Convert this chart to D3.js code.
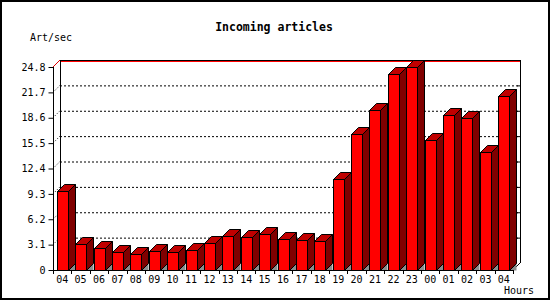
<!DOCTYPE html>
<html>
<head>
<meta charset="utf-8">
<script src="https://cdn.jsdelivr.net/npm/d3@7"></script>
<style>
  body { margin: 0; background: #fff; }
  svg text { font-family: "DejaVu Sans Mono", "Liberation Mono", monospace; }
</style>
</head>
<body>
<div id="chart"></div>
<script>
// Hours on the x axis (24h window, starts and ends at 04)
const hours = ["04", "05", "06", "07", "08", "09", "10", "11", "12", "13", "14", "15", "16",
               "17", "18", "19", "20", "21", "22", "23", "00", "01", "02", "03", "04"];
// Incoming articles per second
const artPerSec = [9.67, 3.18, 2.65, 2.2, 1.92, 2.32, 2.2, 2.45, 3.3, 4.16, 4.0, 4.4, 3.79,
                   3.63, 3.51, 11.13, 16.6, 19.58, 23.98, 24.8, 15.9, 18.93, 18.56, 14.44, 21.25];
// Y tick labels
const yTicks = [0, 3.1, 6.2, 9.3, 12.4, 15.5, 18.6, 21.7, 24.8];

const width = 550, height = 300;
const depth = 7; // 3d offset

const svg = d3.select("#chart")
              .append("svg")
              .attr("width", width)
              .attr("height", height);

// frame
svg.append("rect")
   .attr("x", 1).attr("y", 1)
   .attr("width", width - 2).attr("height", height - 2)
   .attr("fill", "#fff")
   .attr("stroke", "#000")
   .attr("stroke-width", 2);

// scales
const xScale = d3.scaleBand()
                 .domain(d3.range(hours.length))
                 .range([53, 513]);

const yScale = d3.scaleLinear()
                 .domain([0, d3.max(yTicks)])
                 .range([270, 67]);

const x0 = xScale.range()[0], x1 = xScale.range()[1];
const yBase = yScale(0), yTop = yScale(d3.max(yTicks));

// back wall grid lines (dotted)
const grid = svg.append("g");
yTicks.slice(1, -1).forEach((t) => {
  const y = yScale(t) - depth;
  grid.append("line")
      .attr("x1", x0 + depth).attr("x2", x1 + depth)
      .attr("y1", y + 0.5).attr("y2", y + 0.5)
      .attr("stroke", "#000")
      .attr("stroke-dasharray", "2,2");
  // little slanted dash on the side wall
  grid.append("line")
      .attr("x1", x0 + 2).attr("y1", yScale(t) - 2)
      .attr("x2", x0 + depth).attr("y2", yScale(t) - depth)
      .attr("stroke", "#000")
      .attr("stroke-dasharray", "1,2");
  // tick on the right wall
  grid.append("line")
      .attr("x1", x1 + depth - 3).attr("x2", x1 + depth)
      .attr("y1", y + 0.5).attr("y2", y + 0.5)
      .attr("stroke", "#000");
});

// back wall edges
svg.append("line")
   .attr("x1", x0 + depth + 0.5).attr("x2", x0 + depth + 0.5)
   .attr("y1", yTop - depth).attr("y2", yBase - depth)
   .attr("stroke", "#000");
svg.append("line")
   .attr("x1", x1 + depth + 0.5).attr("x2", x1 + depth + 0.5)
   .attr("y1", yTop - depth).attr("y2", yBase - depth)
   .attr("stroke", "#000");
svg.append("line")
   .attr("x1", x1).attr("y1", yBase)
   .attr("x2", x1 + depth).attr("y2", yBase - depth)
   .attr("stroke", "#000");

// top edge: black + red
svg.append("line")
   .attr("x1", x0 + depth).attr("x2", x1 + depth + 1)
   .attr("y1", yTop - depth + 0.5).attr("y2", yTop - depth + 0.5)
   .attr("stroke", "#000");
svg.append("line")
   .attr("x1", x0 + depth + 1).attr("x2", x1 + depth)
   .attr("y1", yTop - depth + 1.5).attr("y2", yTop - depth + 1.5)
   .attr("stroke", "#f00");
svg.append("line")
   .attr("x1", x0).attr("y1", yTop)
   .attr("x2", x0 + depth).attr("y2", yTop - depth)
   .attr("stroke", "#e00000");

// bars
const barW = 11;
const bars = svg.append("g")
                .attr("stroke", "#000")
                .attr("stroke-width", 1)
                .attr("stroke-linejoin", "miter");

artPerSec.forEach((v, i) => {
  const bx0 = Math.round(xScale(i) + xScale.bandwidth() / 2 - barW / 2) + 0.5;
  const bx1 = bx0 + barW;
  const by = Math.round(yScale(v)) + 0.5;
  const yb = yBase + 0.5;

  // floor shadow under the side
  bars.append("path")
      .attr("d", `M${bx1},${yb}L${bx1 + depth},${yb - depth}L${bx1 + depth},${yb}Z`)
      .attr("fill", "#8c8c8c")
      .attr("stroke", "none");

  // side face
  bars.append("path")
      .attr("d", `M${bx1},${by}L${bx1 + depth},${by - depth}L${bx1 + depth},${yb - depth}L${bx1},${yb}Z`)
      .attr("fill", "#800000");

  // top face
  bars.append("path")
      .attr("d", `M${bx0},${by}L${bx0 + depth},${by - depth}L${bx1 + depth},${by - depth}L${bx1},${by}Z`)
      .attr("fill", "#c00000");

  // front face
  bars.append("rect")
      .attr("x", bx0).attr("y", by)
      .attr("width", barW).attr("height", yb - by)
      .attr("fill", "#ff0000");
});

// y axis
const yAxis = d3.axisLeft(yScale)
                .tickValues(yTicks)
                .tickSize(5)
                .tickFormat((d) => d === 0 ? "0" : d3.format(".1f")(d));
const gy = svg.append("g")
              .attr("transform", `translate(${x0 + 0.5},0)`)
              .call(yAxis);
gy.select(".domain").attr("d", `M0,${yTop}V${yBase}`);
gy.selectAll("text").attr("font-size", 10).attr("fill", "#000")
  .attr("font-family", "DejaVu Sans Mono");

// x axis
const xAxis = d3.axisBottom(xScale)
                .tickSize(0)
                .tickPadding(5)
                .tickFormat((i) => hours[i]);
const gx = svg.append("g")
              .attr("transform", `translate(0,${yBase + 0.5})`)
              .call(xAxis);
gx.select(".domain").attr("d", `M${x0},0H${x1}`);
gx.selectAll("text").attr("font-size", 10).attr("fill", "#000")
  .attr("font-family", "DejaVu Sans Mono");

// ticks between categories
d3.range(hours.length + 1).forEach((i) => {
  const x = Math.round(x0 + i * xScale.step()) + 0.5;
  svg.append("line")
     .attr("x1", x).attr("x2", x)
     .attr("y1", yBase).attr("y2", yBase + 4)
     .attr("stroke", "#000");
});

// titles
svg.append("text")
   .attr("x", 274).attr("y", 27)
   .attr("text-anchor", "middle")
   .attr("dominant-baseline", "middle")
   .attr("font-size", 11.5)
   .attr("font-weight", "bold")
   .text("Incoming articles");

svg.append("text")
   .attr("x", 30).attr("y", 38)
   .attr("dominant-baseline", "middle")
   .attr("font-size", 10)
   .text("Art/sec");

svg.append("text")
   .attr("x", 534).attr("y", 291)
   .attr("text-anchor", "end")
   .attr("dominant-baseline", "middle")
   .attr("font-size", 10)
   .text("Hours");
</script>
</body>
</html>
